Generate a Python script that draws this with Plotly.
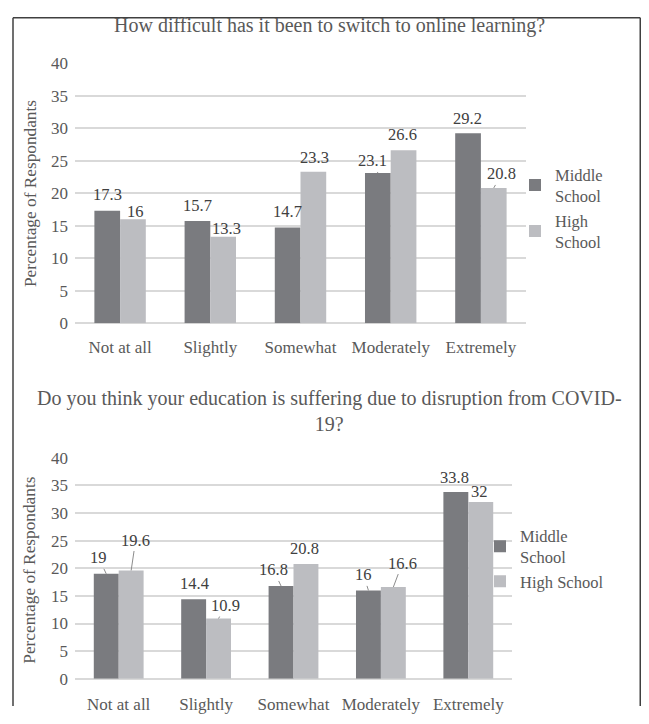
import plotly.graph_objects as go

# ---------------- data ----------------
categories = ["Not at all", "Slightly", "Somewhat", "Moderately", "Extremely"]

q1_middle = [17.3, 15.7, 14.7, 23.1, 29.2]
q1_high = [16, 13.3, 23.3, 26.6, 20.8]

q2_middle = [19, 14.4, 16.8, 16, 33.8]
q2_high = [19.6, 10.9, 20.8, 16.6, 32]

y_tick_values = [0, 5, 10, 15, 20, 25, 30, 35, 40]

title_1 = "How difficult has it been to switch to online learning?"
title_2 = "Do you think your education is suffering due to disruption from COVID-<br>19?"
y_title = "Percentage of Respondants"
legend_names_1 = ["Middle<br>School", "High<br>School"]
legend_names_2 = ["Middle<br>School", "High School"]

# ---------------- style ----------------
# The page body has an 8px margin; a 633x708 figure fills the 649x724 window exactly.
MARGIN = 8
W, H = 649 - 2 * MARGIN, 724 - 2 * MARGIN
FONT = "Liberation Serif"
TXT = "#595959"
LBL = "#404040"
GRID = "#d9d9d9"
DARK = "#7a7b7f"
LIGHT = "#bcbdc1"
BARGAP = 0.43

# label offsets (dx px, dy px above bar top, leader line) per chart / series
offsets_1 = [
    [(0, 16, False), (0, 16, False), (0, 16, False), (-5, 12, True), (-1, 15, False)],
    [(3, 8, False), (3, 8, False), (1, 14, False), (-1, 15.5, False), (8, 14, True)],
]
offsets_2 = [
    [(-7.5, 16, True), (0.5, 16, False), (-7.5, 16, True), (-5, 15.5, True), (-1, 14.5, False)],
    [(4.5, 30.5, True), (7, 13, True), (-1, 15, False), (9, 24, True), (-1, 11, True)],
]


def px(p):
    # window pixel -> paper fraction
    return (p - MARGIN) / W


def py(p):
    return 1 - (p - MARGIN) / H


panels = [
    dict(xa="x", ya="y", xd=[75, 526], yd=[322.7, 55.3], data=[q1_middle, q1_high],
         names=legend_names_1, legend="legend", offs=offsets_1),
    dict(xa="x2", ya="y2", xd=[75, 512], yd=[688, 461], data=[q2_middle, q2_high],
         names=legend_names_2, legend="legend2", offs=offsets_2),
]

fig = go.Figure()
annotations = []
colors = [DARK, LIGHT]

for p in panels:
    for s, (vals, nm) in enumerate(zip(p["data"], p["names"])):
        fig.add_trace(go.Bar(
            x=categories, y=vals, name=nm, marker_color=colors[s], marker_line_width=0,
            xaxis=p["xa"], yaxis=p["ya"], legend=p["legend"], hoverinfo="x+y",
        ))
    half = (p["xd"][1] - p["xd"][0]) / len(categories) * (1 - BARGAP) / 4
    for s, vals in enumerate(p["data"]):
        sign = -1 if s == 0 else 1
        for i, v in enumerate(vals):
            dx, dy, leader = p["offs"][s][i]
            a = dict(xref=p["xa"], yref=p["ya"], x=categories[i], y=v, text=str(v),
                     font=dict(family=FONT, size=16.5, color=LBL), xshift=sign * half)
            if leader:
                a.update(showarrow=True, ax=dx, ay=-dy, arrowhead=0, arrowwidth=1,
                         arrowcolor="#8c8c8c", standoff=0, startstandoff=0)
            else:
                a.update(showarrow=False, xshift=sign * half + dx, yshift=dy,
                         xanchor="center", yanchor="middle")
            annotations.append(a)

axis_common = dict(showgrid=False, showline=False, zeroline=False, ticks="",
                   tickfont=dict(family=FONT, size=17, color=TXT), fixedrange=True)
yaxis_common = dict(range=[0, 40], tickvals=y_tick_values, showgrid=True, gridcolor=GRID,
                    gridwidth=1.5, zeroline=True, zerolinecolor=GRID, zerolinewidth=1.5,
                    showline=False, ticks="", ticklabelstandoff=6,
                    tickfont=dict(family=FONT, size=17, color=TXT), fixedrange=True)

fig.update_layout(
    width=W, height=H, margin=dict(l=0, r=0, t=0, b=0),
    paper_bgcolor="white", plot_bgcolor="white",
    barmode="group", bargap=BARGAP, bargroupgap=0,
    xaxis=dict(domain=[px(75), px(526)], anchor="y", ticklabelstandoff=12, **axis_common),
    yaxis=dict(domain=[py(322.7), py(55.3)], anchor="x", **yaxis_common),
    xaxis2=dict(domain=[px(75), px(512)], anchor="y2", ticklabelstandoff=13, **axis_common),
    yaxis2=dict(domain=[py(688), py(461)], anchor="x2", **yaxis_common),
    legend=dict(x=px(515), xanchor="left", y=py(152), yanchor="top",
                font=dict(family=FONT, size=16.5, color=TXT), bgcolor="rgba(0,0,0,0)",
                borderwidth=0, traceorder="normal"),
    legend2=dict(x=px(480), xanchor="left", y=py(523), yanchor="top",
                 font=dict(family=FONT, size=16.5, color=TXT), bgcolor="rgba(0,0,0,0)",
                 borderwidth=0, traceorder="normal"),
    showlegend=True,
)

# titles
annotations.append(dict(xref="paper", yref="paper", x=px(329), y=py(17), text=title_1,
                        showarrow=False, xanchor="center", yanchor="middle",
                        font=dict(family=FONT, size=20, color=TXT)))
annotations.append(dict(xref="paper", yref="paper", x=px(329), y=py(412.5), text=title_2,
                        showarrow=False, xanchor="center", yanchor="middle",
                        font=dict(family=FONT, size=20, color=TXT)))
# y-axis titles
for yc in (190, 577):
    annotations.append(dict(xref="paper", yref="paper", x=px(30), y=py(yc), text=y_title,
                            showarrow=False, textangle=-90, xanchor="center", yanchor="middle",
                            font=dict(family=FONT, size=17.3, color=TXT)))

fig.update_layout(annotations=annotations)

# outer frame (open at the bottom, like the cropped reference)
frame = dict(color="#404040", width=1.5)
left_x, right_x, top_y = px(13), (W - 0.75) / W, 1 - 0.75 / H
fig.add_shape(type="line", xref="paper", yref="paper", x0=left_x, x1=left_x, y0=0, y1=top_y, line=frame)
fig.add_shape(type="line", xref="paper", yref="paper", x0=right_x, x1=right_x, y0=0, y1=top_y, line=frame)
fig.add_shape(type="line", xref="paper", yref="paper", x0=left_x, x1=right_x, y0=top_y, y1=top_y, line=frame)

fig.write_html("out.html")
